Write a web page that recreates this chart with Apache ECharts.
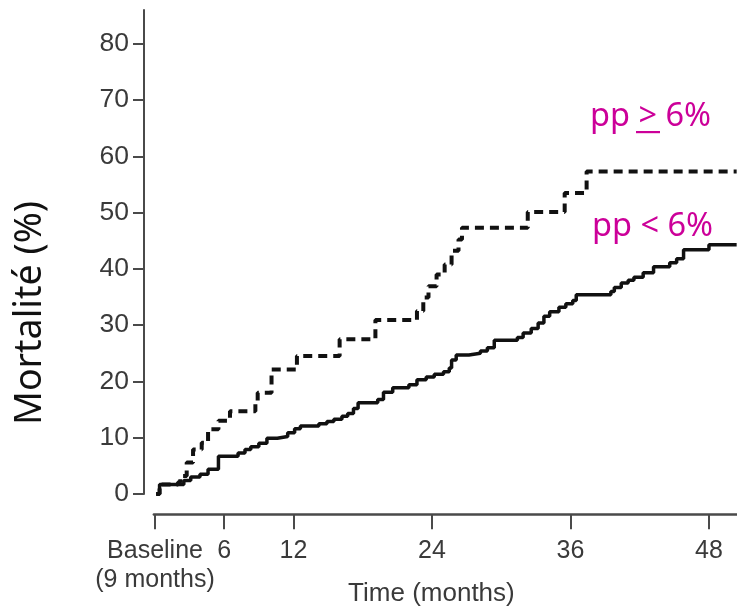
<!DOCTYPE html>
<html>
<head>
<meta charset="utf-8">
<script src="https://cdn.jsdelivr.net/npm/echarts@6/dist/echarts.min.js"></script>
<style>html,body{margin:0;padding:0;background:#fff}#c{width:737px;height:607px}</style>
</head>
<body>
<div id="c"></div>
<script>
// pp < 6% (solid): event times (months) and cumulative mortality (%)
const monthsLow = [0.1,0.4,2.5,3.1,3.9,4.6,5.5,7.2,7.8,8.3,9.0,9.7,10.6,11.5,12.1,12.6,14.2,14.9,15.5,16.2,16.7,17.2,17.6,19.3,19.8,20.6,22.0,22.7,23.5,24.2,25.0,25.5,25.7,26.1,27.2,28.2,28.8,29.4,31.4,31.9,32.6,33.2,33.7,34.2,35.0,35.6,36.2,36.5,39.5,39.8,40.4,41.0,41.5,42.3,43.2,44.6,45.2,45.8,48.0,50.4];
const valuesLow = [0,1.7,2.4,3.0,3.5,4.4,6.7,7.3,7.9,8.4,9.0,9.9,10.2,10.9,11.6,12.1,12.5,12.9,13.3,13.8,14.3,15.2,16.2,16.8,18.1,18.9,19.4,20.3,20.8,21.3,21.7,22.4,23.8,24.7,25.0,25.4,26.0,27.3,27.8,28.6,29.4,30.4,31.6,32.4,33.2,33.8,34.4,35.4,36.0,36.7,37.5,38.0,38.5,39.3,40.4,41.1,41.8,43.4,44.3,44.3];
// pp >= 6% (dashed)
const monthsHigh = [0.1,0.4,2.0,2.2,2.75,3.3,4.05,4.6,5.5,6.5,8.7,8.9,10.1,12.3,16.0,19.1,22.7,23.25,23.7,24.4,25.1,25.7,26.3,26.6,32.3,35.5,37.4,50.4];
const valuesHigh = [0,1.7,2.1,3.2,5.6,7.9,9.1,11.5,13.0,14.7,16.5,18.0,22.1,24.5,27.5,30.9,32.5,34.9,36.9,39.0,40.8,43.2,45.2,47.3,50.1,53.5,57.3,57.3];
// axis ticks
const xTicks = [0,6,12,24,36,48];
const xTickLabels = ['Baseline\n(9 months)','6','12','24','36','48'];
const yTicks = [0,10,20,30,40,50,60,70,80];

const pairs = (xs, ys) => xs.map((x, i) => [x, ys[i]]);
const chart = echarts.init(document.getElementById('c'), null, {renderer: 'canvas'});
const tickFont = 'Liberation Sans, Arial, sans-serif';
chart.setOption({
  animation: false,
  backgroundColor: '#fff',
  grid: [
    {left: 144, right: 0, top: 10, height: 484},
    {left: 153.85, right: 0, top: 514, height: 1}
  ],
  xAxis: [
    {gridIndex: 0, type: 'value', min: -0.95, max: 50.43, show: false},
    {gridIndex: 1, type: 'value', min: -0.1, max: 50.43, position: 'bottom',
     axisLine: {show: true, onZero: false, lineStyle: {color: '#4a4a4a', width: 2.5}},
     axisTick: {show: true, interval: 0, length: 15, lineStyle: {color: '#4a4a4a', width: 2}, customValues: xTicks},
     axisLabel: {customValues: xTicks, interval: 0, formatter: v => xTickLabels[xTicks.indexOf(v)],
       showMinLabel: true, showMaxLabel: true, hideOverlap: false,
       fontFamily: tickFont, fontSize: 25, color: '#3a3a3a', margin: 22, lineHeight: 29},
     splitLine: {show: false},
     name: 'Time (months)', nameLocation: 'middle', nameGap: 67, nameMoveOverlap: false,
     nameTextStyle: {fontFamily: tickFont, fontSize: 26, color: '#3a3a3a', padding: [0, 28, 0, 0]}}
  ],
  yAxis: [
    {gridIndex: 0, type: 'value', min: 0, max: 86,
     axisLine: {show: true, onZero: false, lineStyle: {color: '#4a4a4a', width: 2}},
     axisTick: {show: true, length: 11, lineStyle: {color: '#4a4a4a', width: 2}, customValues: yTicks},
     axisLabel: {customValues: yTicks, fontFamily: tickFont, fontSize: 26.5, color: '#3a3a3a', margin: 15},
     splitLine: {show: false}},
    {gridIndex: 1, type: 'value', show: false, axisLine: {onZero: false}}
  ],
  series: [
    {name: 'pp < 6%', type: 'line', step: 'end', xAxisIndex: 0, yAxisIndex: 0,
     data: pairs(monthsLow, valuesLow), showSymbol: false,
     lineStyle: {color: '#111', width: 3.5}},
    {name: 'pp ≥ 6%', type: 'line', step: 'end', xAxisIndex: 0, yAxisIndex: 0,
     data: pairs(monthsHigh, valuesHigh), showSymbol: false,
     lineStyle: {color: '#111', width: 4, type: [9, 6]}}
  ],
  graphic: [
    {type: 'text', x: 30, y: 313, rotation: Math.PI / 2,
     style: {text: 'Mortalité (%)', fontFamily: 'Noto Sans, sans-serif', fontSize: 37.5, fill: '#111',
       align: 'center', verticalAlign: 'middle'}},
    {type: 'text', x: 590, y: 117,
     style: {text: 'pp > 6%', fontFamily: 'Noto Sans, sans-serif', fontSize: 32.5, fill: '#cc0099',
       align: 'left', verticalAlign: 'middle'}},
    {type: 'rect', shape: {x: 636, y: 131, width: 24, height: 2.2}, style: {fill: '#cc0099'}},
    {type: 'text', x: 592, y: 227,
     style: {text: 'pp < 6%', fontFamily: 'Noto Sans, sans-serif', fontSize: 32.5, fill: '#cc0099',
       align: 'left', verticalAlign: 'middle'}}
  ]
});
</script>
</body>
</html>
